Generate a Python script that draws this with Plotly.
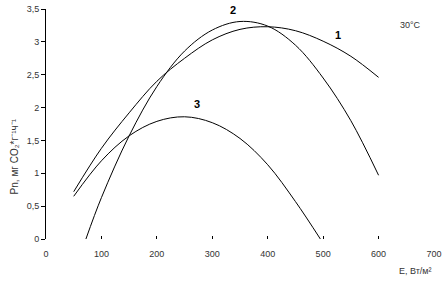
import plotly.graph_objects as go

# Curve 1
e1 = [50, 100, 150, 200, 250, 300, 350, 400, 450, 500, 550, 600]
p1 = [0.72, 1.38, 1.92, 2.40, 2.75, 3.03, 3.19, 3.23, 3.17, 3.01, 2.78, 2.46]
# Curve 2
e2 = [72, 100, 150, 200, 250, 300, 350, 400, 450, 500, 550, 600]
p2 = [0.0, 0.63, 1.57, 2.32, 2.86, 3.18, 3.31, 3.24, 2.95, 2.45, 1.80, 0.97]
# Curve 3
e3 = [50, 100, 150, 200, 250, 300, 350, 400, 450, 495]
p3 = [0.65, 1.19, 1.57, 1.79, 1.86, 1.77, 1.53, 1.13, 0.57, 0.0]

curve_labels = ["1", "2", "3"]
label_x = [527, 337, 272]
label_y = [3.10, 3.48, 2.05]

x_ticks = [0, 100, 200, 300, 400, 500, 600, 700]
y_ticks = [0, 0.5, 1, 1.5, 2, 2.5, 3, 3.5]
y_ticktext = ["0", "0,5", "1", "1,5", "2", "2,5", "3", "3,5"]

FONT = "Liberation Sans, Arial"

fig = go.Figure()
for ex, py in [(e1, p1), (e2, p2), (e3, p3)]:
    fig.add_trace(go.Scatter(x=ex, y=py, mode="lines",
                             line=dict(color="black", width=1, shape="spline", smoothing=1.0),
                             showlegend=False, hoverinfo="skip"))

for t, lx, ly in zip(curve_labels, label_x, label_y):
    fig.add_annotation(x=lx, y=ly, text="<b>" + t + "</b>", showarrow=False,
                       font=dict(family=FONT, size=11, color="black"))

fig.add_annotation(x=657, y=3.26, text="30°C", showarrow=False,
                   font=dict(family=FONT, size=9, color="#333"))

fig.add_annotation(x=1.0, xref="paper", y=-0.14, yref="paper", xanchor="right", yanchor="middle",
                   text="E, Вт/м²", showarrow=False,
                   font=dict(family=FONT, size=9, color="#333"))

fig.add_annotation(x=-0.082, xref="paper", y=0.36, yref="paper", xanchor="center", yanchor="middle",
                   text="Pn, мг CO₂*г⁻¹ч⁻¹", textangle=-90, showarrow=False,
                   font=dict(family=FONT, size=10, color="#333"))

fig.update_layout(
    width=448, height=287,
    margin=dict(l=46, r=14, t=9, b=48, autoexpand=False),
    plot_bgcolor="white", paper_bgcolor="white",
    font=dict(family=FONT, size=9, color="#333"),
    xaxis=dict(range=[0, 700], tickvals=x_ticks, ticks="inside", ticklen=3, tickcolor="black",
               showline=False, showgrid=False, zeroline=False, automargin=False,
               ticklabelstandoff=8, tickfont=dict(size=9, color="#333")),
    yaxis=dict(range=[0, 3.5], tickvals=y_ticks, ticktext=y_ticktext, ticks="outside", ticklen=4,
               tickcolor="black", showline=True, linecolor="black", linewidth=1,
               showgrid=False, zeroline=False, automargin=False,
               tickfont=dict(size=9, color="#333")),
)

fig.write_html("out.html", config={"displayModeBar": False},
               post_script="document.body.style.margin='0';")
